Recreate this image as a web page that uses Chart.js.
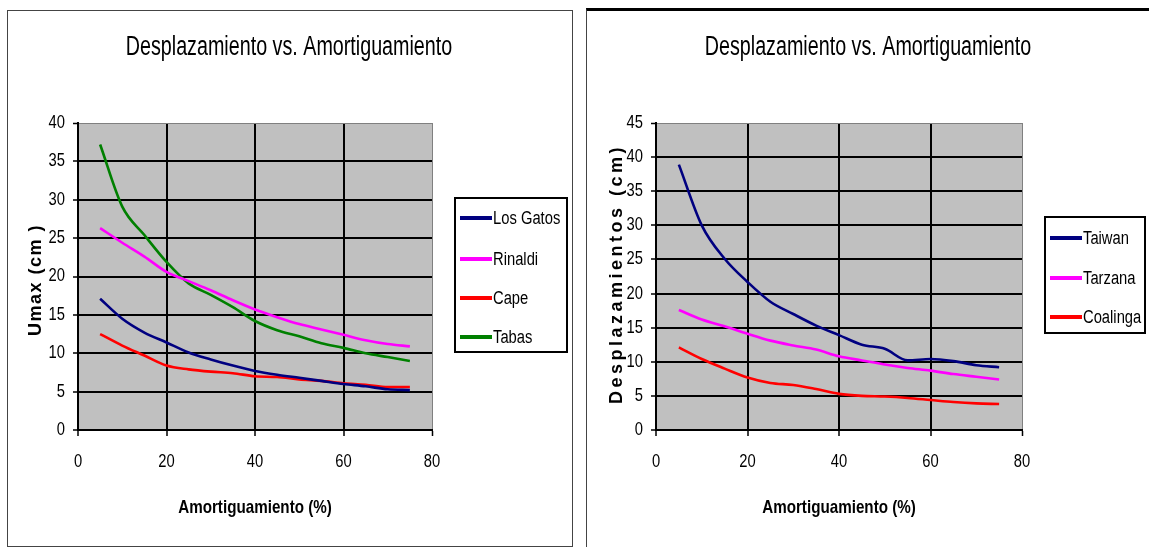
<!DOCTYPE html>
<html><head><meta charset="utf-8">
<script src="https://cdn.jsdelivr.net/npm/chart.js@4/dist/chart.umd.min.js"></script>
<style>
html,body{margin:0;padding:0;background:#fff;width:1149px;height:547px;overflow:hidden;}
#p1{position:absolute;left:7px;top:10px;width:564px;height:535px;border:1px solid #444;}
#p2{position:absolute;left:586px;top:8px;width:600px;height:545px;border-top:3px solid #000;border-left:1px solid #444;}
canvas{position:absolute;left:0;top:0;}
</style></head>
<body>
<div id="p1"><canvas id="c1" width="564" height="535"></canvas></div>
<div id="p2"><canvas id="c2" width="562" height="536"></canvas></div>
<script>
// ---- Data ----
const damping = [5,10,15,20,25,30,35,40,45,50,55,60,65,70,75];
const losGatos = [17.1,14.5,12.7,11.4,10.1,9.2,8.4,7.7,7.2,6.8,6.4,6.0,5.7,5.3,5.2];
const rinaldi  = [26.3,24.4,22.6,20.6,19.4,18.2,16.9,15.7,14.7,13.8,13.1,12.4,11.7,11.2,10.9];
const cape     = [12.5,11.0,9.7,8.4,7.9,7.6,7.4,7.0,6.9,6.6,6.4,6.1,5.9,5.6,5.6];
const tabas    = [37.2,29.1,25.4,21.9,19.1,17.6,16.0,14.2,13.0,12.2,11.3,10.7,10.0,9.5,9.0];

const taiwan   = [38.9,30.0,25.1,21.7,18.8,17.0,15.3,13.9,12.5,11.9,10.2,10.4,10.1,9.5,9.2];
const tarzana  = [17.6,16.2,15.2,14.1,13.1,12.4,11.8,10.8,10.2,9.6,9.1,8.7,8.2,7.8,7.4];
const coalinga = [12.1,10.4,9.0,7.7,6.9,6.6,6.0,5.3,5.0,4.9,4.7,4.4,4.1,3.9,3.8];

const xTicks = [0,20,40,60,80];
const yTicksLeft = [0,5,10,15,20,25,30,35,40];
const yTicksRight = [0,5,10,15,20,25,30,35,40,45];

const chartTitle = 'Desplazamiento vs. Amortiguamiento';
const xTitle = 'Amortiguamiento (%)';
const yTitleLeft = 'Umax (cm )';
const yTitleRight = 'Desplazamientos (cm)';

const SANS = "'Liberation Sans',Arial,sans-serif";

function pts(ys){ return damping.map((x,i)=>({x:x,y:ys[i]})); }
function ds(label, ys, color){
  return {label:label, data:pts(ys), borderColor:color, backgroundColor:color,
    borderWidth:2.6, pointRadius:0, fill:false, cubicInterpolationMode:'monotone'};
}

// draw text horizontally condensed (imitates a narrow face)
function narrowText(ctx, txt, x, y, font, sx, align){
  ctx.save();
  ctx.font = font; ctx.textAlign = align; ctx.textBaseline = 'middle';
  ctx.translate(x, y); ctx.scale(sx, 1);
  ctx.fillText(txt, 0, 0);
  ctx.restore();
}

const decor = {
  id:'decor',
  beforeDraw(chart, args, o){
    const {ctx, chartArea:a} = chart;
    ctx.save(); ctx.fillStyle='#c0c0c0';
    ctx.fillRect(a.left, a.top, a.right-a.left, a.bottom-a.top);
    ctx.restore();
  },
  afterDraw(chart, args, o){
    const ctx = chart.ctx, a = chart.chartArea;
    const xs = chart.scales.x, ys = chart.scales.y;
    ctx.save();
    ctx.fillStyle='#000';
    // title
    narrowText(ctx, o.title, o.titleX, o.titleY, "27px " + SANS, 0.73, 'center');
    // tick labels
    xs.ticks.forEach(t => narrowText(ctx, String(t.value), xs.getPixelForValue(t.value), a.bottom + 32, "18px " + SANS, 0.82, 'center'));
    ys.ticks.forEach(t => narrowText(ctx, String(t.value), a.left - 13, ys.getPixelForValue(t.value), "18px " + SANS, 0.82, 'right'));
    // x title
    narrowText(ctx, xTitle, (a.left + a.right) / 2, a.bottom + 78, "bold 19px " + SANS, 0.8, 'center');
    // y title
    ctx.save();
    ctx.translate(o.yX, o.yY); ctx.rotate(-Math.PI/2);
    ctx.font = "bold 18px " + SANS; ctx.textAlign='center'; ctx.textBaseline='middle';
    try { ctx.letterSpacing = o.ls + 'px'; } catch(e) {}
    ctx.fillText(o.yTitle, 0, 0);
    ctx.restore();
    // legend
    const L = o.legend;
    ctx.strokeStyle='#000'; ctx.lineWidth=2;
    ctx.strokeRect(L.x, L.y, L.w, L.h);
    chart.data.datasets.forEach((d,i)=>{
      const yy = L.items[i];
      ctx.strokeStyle = d.borderColor; ctx.lineWidth = 4; ctx.lineCap='butt';
      ctx.beginPath(); ctx.moveTo(L.sx0, yy); ctx.lineTo(L.sx1, yy); ctx.stroke();
      narrowText(ctx, d.label, L.tx, yy + 1, "18px " + SANS, 0.82, 'left');
    });
    ctx.restore();
  }
};

function makeChart(id, datasets, ymax, yTicks, geom, dec){
  const isMaxY = c => c.tick && c.tick.value === ymax;
  const isMaxX = c => c.tick && c.tick.value === 80;
  return new Chart(document.getElementById(id), {
    type:'line',
    data:{datasets:datasets},
    plugins:[decor],
    options:{
      responsive:false, animation:false,
      layout:{padding:{left:geom.left-60, right:geom.right, top:geom.top, bottom:0}},
      plugins:{legend:{display:false}, tooltip:{enabled:false}, title:{display:false}, decor:dec},
      scales:{
        x:{type:'linear', min:0, max:80,
          afterBuildTicks: s => { s.ticks = xTicks.map(v=>({value:v})); },
          afterFit: s => { s.height = geom.xh; },
          ticks:{display:false},
          grid:{color: c=> isMaxX(c)?'#808080':'#000', lineWidth: c=> isMaxX(c)?1:2, tickColor:'#000', tickLength:6, tickWidth:1.5},
          border:{color:'#000', width:2}
        },
        y:{type:'linear', min:0, max:ymax,
          afterBuildTicks: s => { s.ticks = yTicks.map(v=>({value:v})); },
          afterFit: s => { s.width = 60; },
          ticks:{display:false},
          grid:{color: c=> isMaxY(c)?'#808080':'#000', lineWidth: c=> isMaxY(c)?1:2, tickColor:'#000', tickLength:5, tickWidth:1.5},
          border:{color:'#000', width:2}
        }
      }
    }
  });
}

makeChart('c1', [
  ds('Los Gatos', losGatos, '#000080'),
  ds('Rinaldi', rinaldi, '#ff00ff'),
  ds('Cape', cape, '#ff0000'),
  ds('Tabas', tabas, '#008000')
], 40, yTicksLeft,
  {left:70, right:564-424, top:112, xh:535-419},
  {title:chartTitle, titleX:281, titleY:37, yTitle:yTitleLeft, yX:28, yY:269, ls:1.5,
   legend:{x:447, y:187, w:112, h:154, items:[207,248,287,326], sx0:452, sx1:484, tx:485}}
);

makeChart('c2', [
  ds('Taiwan', taiwan, '#000080'),
  ds('Tarzana', tarzana, '#ff00ff'),
  ds('Coalinga', coalinga, '#ff0000')
], 45, yTicksRight,
  {left:69, right:562-435, top:112, xh:536-419},
  {title:chartTitle, titleX:281, titleY:37, yTitle:yTitleRight, yX:30, yY:263, ls:3.5,
   legend:{x:458, y:206, w:100, h:116, items:[227,267,306], sx0:463, sx1:495, tx:496}}
);
</script>
</body></html>
